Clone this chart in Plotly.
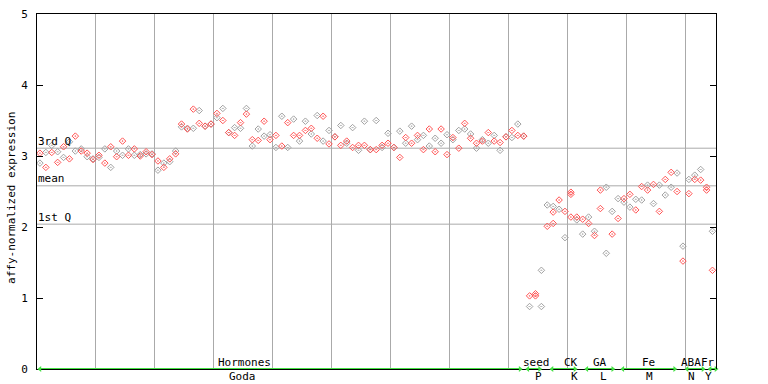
import plotly.graph_objects as go

# ---- data (sample index -> expression) ----
expr_hi = [3.04, 3.05, 3.05, 3.06, 3.13, 3.20, 3.28, 3.10, 3.04, 2.96,
           3.01, 3.10, 3.13, 3.07, 3.21, 3.10, 3.10, 3.02, 3.06, 3.03,
           2.93, 2.90, 2.96, 3.07, 3.45, 3.39, 3.66, 3.64, 3.42, 3.45,
           3.60, 3.67, 3.33, 3.40, 3.47, 3.67, 3.23, 3.38, 3.49, 3.30,
           3.29, 3.56, 3.47, 3.52, 3.29, 3.49, 3.39, 3.57, 3.56, 3.36,
           3.27, 3.43, 3.21, 3.40, 3.15, 3.49, 3.09, 3.50, 3.15, 3.32,
           3.12, 3.35, 3.26, 3.42, 3.29, 3.29, 3.38, 3.25, 3.38, 3.30,
           3.26, 3.36, 3.46, 3.31, 3.18, 3.23, 3.33, 3.29, 3.19, 3.27,
           3.36, 3.45, 3.28, 1.03, 1.06, 1.39, 2.31, 2.29, 2.38, 2.22,
           2.49, 2.14, 2.11, 2.14, 1.94, 2.52, 2.56, 2.22, 2.40, 2.40,
           2.46, 2.39, 2.57, 2.59, 2.60, 2.59, 2.67, 2.77, 2.76, 1.73,
           2.67, 2.73, 2.81, 2.56, 1.94]
expr_lo = [2.90, 2.84, 3.15, 2.91, 2.98, 2.96, 3.07, 3.07, 2.99, 2.95,
           2.98, 2.90, 2.84, 2.99, 3.01, 3.01, 3.01, 3.00, 3.03, 3.02,
           2.80, 2.84, 2.92, 3.03, 3.41, 3.38, 3.39, 3.46, 3.42, 3.45,
           3.54, 3.50, 3.33, 3.29, 3.39, 3.59, 3.14, 3.22, 3.28, 3.23,
           3.12, 3.14, 3.12, 3.29, 3.21, 3.36, 3.31, 3.25, 3.21, 3.17,
           3.27, 3.15, 3.18, 3.12, 3.08, 3.15, 3.09, 3.09, 3.12, 3.18,
           3.12, 2.98, 3.18, 3.18, 3.23, 3.09, 3.14, 3.06, 3.18, 3.02,
           3.23, 3.11, 3.38, 3.25, 3.11, 3.21, 3.18, 3.21, 3.08, 3.27,
           3.26, 3.29, 3.28, 0.88, 1.03, 0.88, 2.01, 2.21, 2.25, 1.85,
           2.46, 2.10, 1.90, 2.05, 1.88, 2.26, 1.63, 1.90, 2.12, 2.35,
           2.28, 2.24, 2.38, 2.52, 2.33, 2.22, 2.45, 2.56, 2.50, 1.52,
           2.47, 2.67, 2.66, 2.52, 1.39]
extra_idx = [87, 90]
extra_val = [2.05, 2.14]

hi_colour = "RG" * 41 + "R" + "RRGGGRRRRRGGRGGGRRGRGRGRRGGGGGRG"
lo_colour = "GR" * 41 + "G" + "GRGRRGGRGGRRRGRRGGRGRGRGGRRRRRRR"

q3_val, mean_val, q1_val = 3.11, 2.58, 2.04

group_names = ["Hormones", "seed", "CK", "GA", "Fe", "ABA", "Fr"]
group_codes = ["Goda", "P", "K", "L", "M", "N", "Y"]
group_start = [0.0, 82.7, 86.8, 92.7, 98.8, 109.7, 113.6]
group_end = [81.4, 84.7, 90.7, 97.1, 107.6, 112.4, 114.6]
name_pos = [34.66, 84.2, 90.1, 94.9, 103.1, 110.3, 113.2]
code_pos = [34.4, 84.5, 90.6, 95.5, 103.4, 110.5, 113.4]

RED = "#ff5252"
GRAY = "#a0a0a0"
GREEN = "#44e044"
FONT = "DejaVu Sans Mono"

red_x, red_y, gray_x, gray_y = [], [], [], []
for i, (h, l) in enumerate(zip(expr_hi, expr_lo)):
    for v, c in ((h, hi_colour[i]), (l, lo_colour[i])):
        if c == "R":
            red_x.append(i); red_y.append(v)
        else:
            gray_x.append(i); gray_y.append(v)
red_x += extra_idx
red_y += extra_val

fig = go.Figure()
fig.add_trace(go.Scatter(x=gray_x, y=gray_y, mode="markers",
                         marker=dict(symbol="diamond-open-dot", size=5, color=GRAY,
                                     line=dict(width=1, color=GRAY)),
                         showlegend=False, hoverinfo="skip"))
fig.add_trace(go.Scatter(x=red_x, y=red_y, mode="markers",
                         marker=dict(symbol="diamond-open-dot", size=5, color=RED,
                                     line=dict(width=1, color=RED)),
                         showlegend=False, hoverinfo="skip"))

for s, e in zip(group_start, group_end):
    fig.add_trace(go.Scatter(x=[s, e], y=[0, 0], mode="lines+markers",
                             line=dict(color=GREEN, width=2),
                             marker=dict(symbol=["triangle-left", "triangle-right"],
                                         size=5, color=GREEN),
                             cliponaxis=False, showlegend=False, hoverinfo="skip"))

for q in (q3_val, mean_val, q1_val):
    fig.add_shape(type="line", xref="paper", x0=0, x1=1, yref="y", y0=q, y1=q,
                  line=dict(color="#aaaaaa", width=1), layer="below")

for txt, q in (("3rd Q", q3_val), ("mean", mean_val), ("1st Q", q1_val)):
    fig.add_annotation(x=0, xref="paper", y=q, yref="y", text=txt, showarrow=False,
                       xanchor="left", yanchor="middle", yshift=7, xshift=-1,
                       font=dict(family=FONT, size=11, color="black"))

for n, c, pn, pc in zip(group_names, group_codes, name_pos, code_pos):
    fig.add_annotation(x=pn, xref="x", y=0.0197, yref="paper", text=n, showarrow=False,
                       xanchor="center", yanchor="middle",
                       font=dict(family=FONT, size=11, color="black"))
    fig.add_annotation(x=pc, xref="x", y=-0.0225, yref="paper", text=c, showarrow=False,
                       xanchor="center", yanchor="middle",
                       font=dict(family=FONT, size=11, color="black"))

fig.add_annotation(x=-0.0368, xref="paper", y=0.482, yref="paper",
                   text="affy-normalized expression", showarrow=False, textangle=-90,
                   xanchor="center", yanchor="middle",
                   font=dict(family=FONT, size=11, color="black"))

fig.update_layout(
    width=768, height=384,
    margin=dict(l=37, r=52, t=14, b=15),
    plot_bgcolor="white", paper_bgcolor="white",
    xaxis=dict(range=[-0.5, 114.6], tickvals=[9.5 + 10 * k for k in range(11)],
               showticklabels=False, ticks="", showgrid=True, gridcolor="#aaaaaa",
               gridwidth=1, zeroline=False, showline=True, linecolor="black",
               linewidth=1, mirror=True, layer="below traces"),
    yaxis=dict(range=[0, 5], tickvals=[0, 1, 2, 3, 4, 5], ticks="inside", ticklen=6,
               tickcolor="black", showline=True, linecolor="black", linewidth=1,
               mirror="ticks", showgrid=False, zeroline=False, ticklabelstandoff=6,
               automargin=False,
               tickfont=dict(family=FONT, size=11, color="black")),
)

# remove the browser's default 8px body margin so the figure sits at the page corner
fig.write_html("out.html", config={"displayModeBar": False},
               post_script="document.body.style.margin='0';document.body.style.padding='0';")
